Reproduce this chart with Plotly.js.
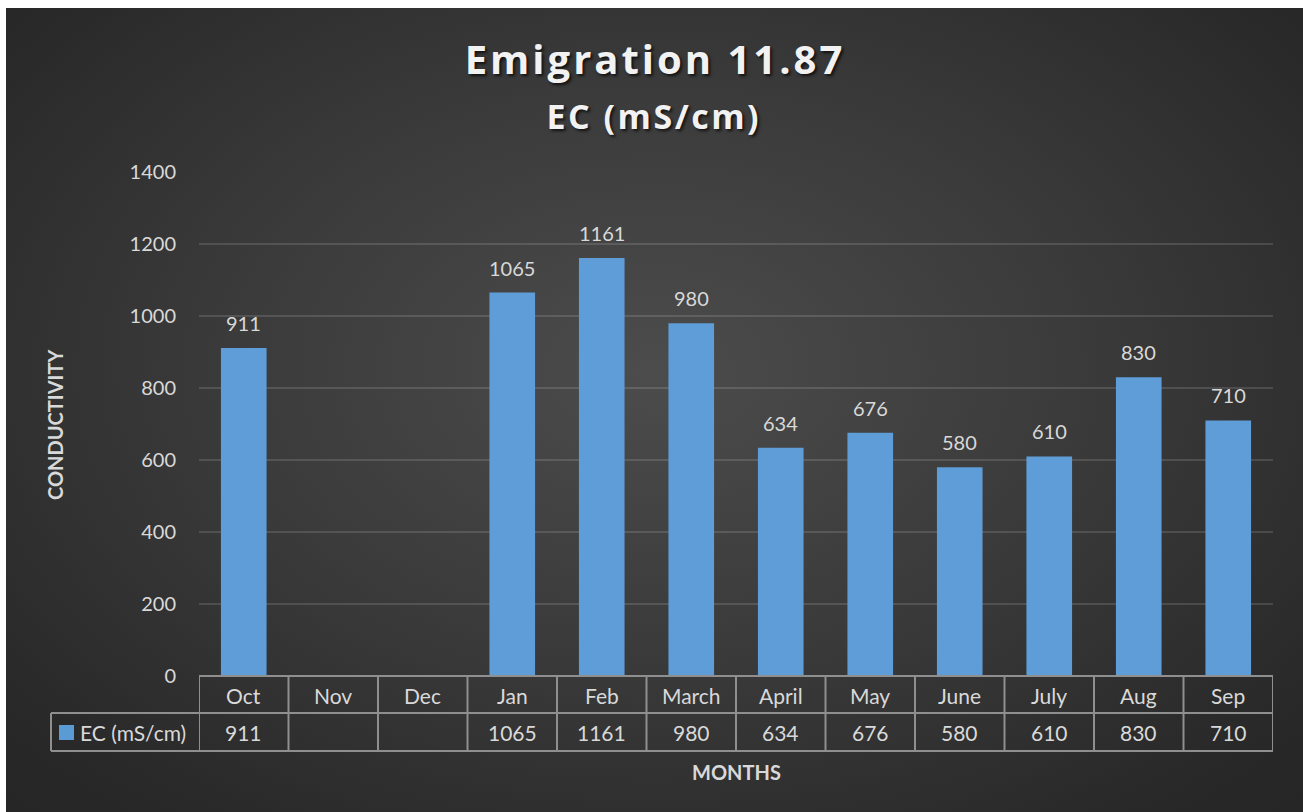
<!DOCTYPE html>
<html>
<head>
<meta charset="utf-8">
<script src="https://cdn.plot.ly/plotly-3.0.1.min.js"></script>
<style>
  html, body { margin: 0; padding: 0; background: #ffffff; width: 1303px; height: 812px; overflow: hidden; }
  #bg { position: absolute; left: 6px; top: 8px; width: 1297px; height: 804px;
        background: radial-gradient(ellipse 75% 80% at 50% 45%, #4c4c4c 0%, #3a3a3a 45%, #282828 85%, #252525 100%); }
  #chart { position: absolute; left: 0; top: 0; width: 1303px; height: 812px; }
  #chart .gtitle { letter-spacing: 3px; }
</style>
</head>
<body>
<div id="bg"></div>
<div id="chart"></div>
<script>
// ---- data ----
const months = ["Oct", "Nov", "Dec", "Jan", "Feb", "March", "April", "May", "June", "July", "Aug", "Sep"];
const ecValues = [911, null, null, 1065, 1161, 980, 634, 676, 580, 610, 830, 710];
const seriesName = "EC (mS/cm)";
const titleMain = "Emigration 11.87";
const titleSub = "EC (mS/cm)";
const yTicks = [0, 200, 400, 600, 800, 1000, 1200, 1400];

// ---- layout geometry ----
const W = 1303, H = 812;
const L = 199, R = 1273, T = 172, B = 676;
const pw = R - L, ph = B - T;
const px = x => (x - L) / pw;
const py = y => (B - y) / ph;

const font = "Lato, 'Open Sans', sans-serif";
const titleFont = "'Open Sans', Lato, sans-serif";
const txt = "#d9d9d9";
const lineCol = "#8f8f8f";
const rowHeadY = 695, rowValY = 732, rowMidY = 713, rowBotY = 751, tableLeft = 51;

const annotations = [];
const shapes = [];

// subtitle (first annotation, index 0)
annotations.push({ x: px(654), y: py(116), xref: "paper", yref: "paper", text: titleSub, showarrow: false,
  xanchor: "center", yanchor: "middle",
  font: { family: titleFont, size: 34, color: "#f2f2f2", weight: "bold", shadow: "2px 2px 3px rgba(0,0,0,0.7)" } });

// data labels above bars
months.forEach((m, i) => {
  if (ecValues[i] !== null) {
    annotations.push({ x: m, y: ecValues[i], xref: "x", yref: "y", text: String(ecValues[i]),
      showarrow: false, yanchor: "bottom", yshift: 11, font: { family: font, size: 20, color: txt } });
  }
});

// table header (categories) and values
months.forEach((m, i) => {
  annotations.push({ x: m, y: py(rowHeadY), xref: "x", yref: "paper", text: m, showarrow: false,
    yanchor: "middle", font: { family: font, size: 21, color: txt } });
  annotations.push({ x: m, y: py(rowValY), xref: "x", yref: "paper",
    text: ecValues[i] === null ? "" : String(ecValues[i]), showarrow: false,
    yanchor: "middle", font: { family: font, size: 21, color: txt } });
});

// legend cell text
annotations.push({ x: px(78), y: py(rowValY), xref: "paper", yref: "paper", text: seriesName, showarrow: false,
  xanchor: "left", yanchor: "middle", font: { family: font, size: 21, color: txt } });
shapes.push({ type: "rect", xref: "paper", yref: "paper", x0: px(59), x1: px(74), y0: py(725), y1: py(740),
  fillcolor: "#5b9bd5", line: { width: 0 } });

// axis titles
annotations.push({ x: px(55), y: py(424), xref: "paper", yref: "paper", text: "<b>CONDUCTIVITY</b>", showarrow: false,
  textangle: -90, xanchor: "center", yanchor: "middle", font: { family: font, size: 20, color: txt } });
annotations.push({ x: px(736), y: py(772), xref: "paper", yref: "paper", text: "<b>MONTHS</b>", showarrow: false,
  xanchor: "center", yanchor: "middle", font: { family: font, size: 20, color: txt } });

// table lines
const ln = { color: lineCol, width: 2 };
shapes.push({ type: "line", xref: "paper", yref: "paper", x0: 0, x1: 1, y0: 0, y1: 0, line: ln });
shapes.push({ type: "line", xref: "paper", yref: "paper", x0: px(tableLeft), x1: 1, y0: py(rowMidY), y1: py(rowMidY), line: ln });
shapes.push({ type: "line", xref: "paper", yref: "paper", x0: px(tableLeft), x1: 1, y0: py(rowBotY), y1: py(rowBotY), line: ln });
shapes.push({ type: "line", xref: "paper", yref: "paper", x0: px(tableLeft), x1: px(tableLeft), y0: py(rowMidY), y1: py(rowBotY), line: ln });
for (let i = 0; i <= months.length; i++) {
  shapes.push({ type: "line", xref: "x", yref: "paper", x0: i - 0.5, x1: i - 0.5, y0: 0, y1: py(rowBotY), line: ln });
}

const trace = {
  type: "bar", x: months, y: ecValues, name: seriesName,
  marker: { color: "#5e9dd8", line: { width: 0 } },
  hoverinfo: "x+y"
};

const layout = {
  width: W, height: H,
  paper_bgcolor: "rgba(0,0,0,0)", plot_bgcolor: "rgba(0,0,0,0)",
  margin: { l: L, r: W - R, t: T, b: H - B, pad: 0 },
  showlegend: false,
  bargap: 0.49,
  title: { text: titleMain, x: 655 / W, xanchor: "center", y: 1 - 60 / H, yanchor: "middle", yref: "container", xref: "container",
    font: { family: titleFont, size: 40, color: "#f2f2f2", weight: "bold", shadow: "2px 2px 3px rgba(0,0,0,0.7)" } },
  xaxis: { type: "category", categoryorder: "array", categoryarray: months, range: [-0.5, months.length - 0.5],
    showticklabels: false, showgrid: false, zeroline: false, showline: false, ticks: "", fixedrange: true },
  yaxis: { range: [0, 1400], tickvals: yTicks, ticktext: yTicks.map(String), showgrid: true,
    gridcolor: "rgba(255,255,255,0.13)", gridwidth: 1.5, zeroline: false, showline: false, ticks: "",
    ticklabelstandoff: 22, tickfont: { family: font, size: 20, color: txt }, fixedrange: true },
  annotations: annotations,
  shapes: shapes
};

Plotly.newPlot("chart", [trace], layout, { displayModeBar: false, responsive: false }).then(gd => {
  const sub = gd.querySelector('.annotation[data-index="0"] text');
  if (sub) sub.style.letterSpacing = "2.5px";
});
</script>
</body>
</html>
